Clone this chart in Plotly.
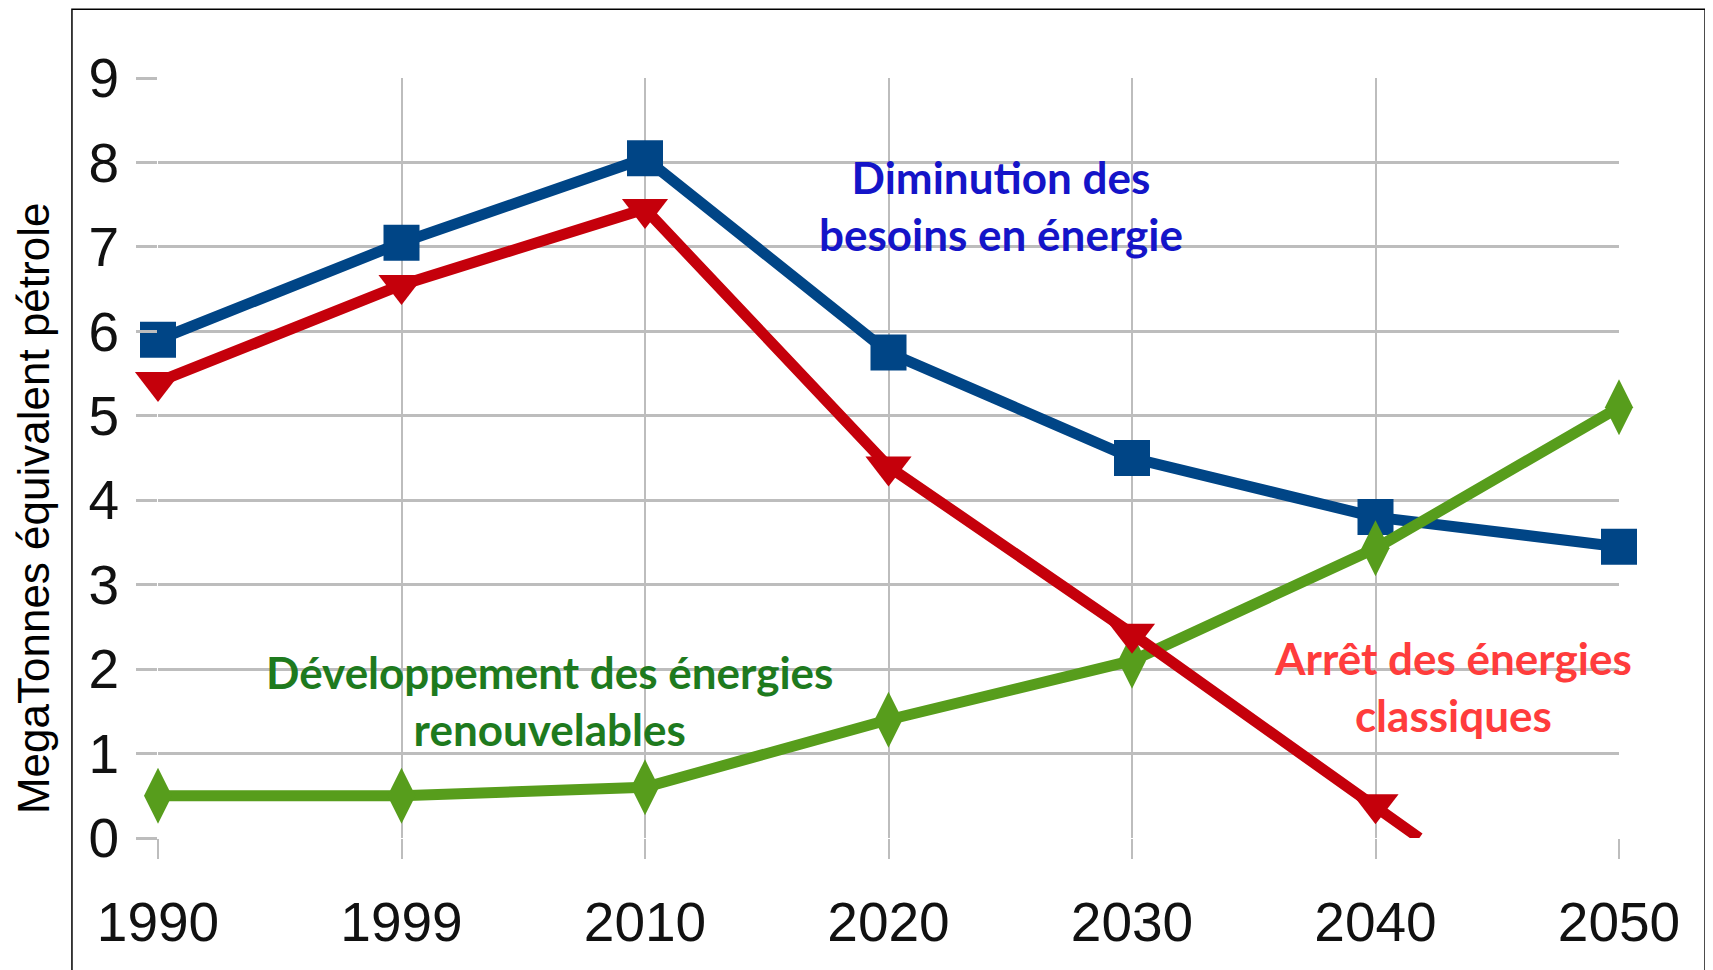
import plotly.graph_objects as go

annees = ["1990", "1999", "2010", "2020", "2030", "2040", "2050"]
positions = [0, 1, 2, 3, 4, 5, 6]

besoins = [5.9, 7.05, 8.05, 5.75, 4.5, 3.8, 3.45]
renouvelables = [0.5, 0.5, 0.6, 1.4, 2.1, 3.43, 5.1]
classiques = [5.4, 6.55, 7.45, 4.4, 2.42, 0.4, 0.0]
classiques_x = [0, 1, 2, 3, 4, 5, 5.18]

bleu = "#004586"
rouge = "#c5000b"
vert = "#579d1c"
grille = "#bdbdbd"

fig = go.Figure()

fig.add_trace(go.Scatter(
    x=positions, y=besoins, mode="lines+markers", cliponaxis=False,
    line=dict(color=bleu, width=11),
    marker=dict(symbol="square", size=36, color=bleu)))

fig.add_trace(go.Scatter(
    x=positions, y=renouvelables, mode="lines+markers", cliponaxis=False,
    line=dict(color=vert, width=11),
    marker=dict(symbol="diamond-tall", size=40, color=vert)))

# red line ends on the x axis without a marker
fig.add_trace(go.Scatter(
    x=classiques_x, y=classiques, mode="lines", cliponaxis=False,
    line=dict(color=rouge, width=11)))
fig.add_trace(go.Scatter(
    x=classiques_x[:-1], y=classiques[:-1], mode="markers", cliponaxis=False,
    marker=dict(symbol="triangle-down", size=40, color=rouge, opacity=1,
                line=dict(width=0))))

etiquettes = [
    ("Diminution des<br>besoins en énergie", 3.46, 7.49, "#1414c8"),
    ("Développement des énergies<br>renouvelables", 1.607, 1.63, "#1e7a1e"),
    ("Arrêt des énergies<br>classiques", 5.32, 1.80, "#ff3c3c"),
]
for texte, x, y, couleur in etiquettes:
    fig.add_annotation(
        x=x, y=y, text="<b>" + texte + "</b>", showarrow=False,
        xanchor="center", yanchor="middle",
        font=dict(family="Lato", size=44, color=couleur))

fig.add_annotation(
    xref="paper", yref="paper", x=-0.0856, y=0.434,
    text="MegaTonnes équivalent pétrole", textangle=-90, showarrow=False,
    xanchor="center", yanchor="middle",
    font=dict(family="Liberation Sans", size=44, color="black"))

fig.add_shape(
    type="rect", xref="paper", yref="paper",
    x0=-0.0589, x1=1.0589, y0=-0.25, y1=1.0905,
    line=dict(color="black", width=1.5), fillcolor="rgba(0,0,0,0)")

fig.update_layout(
    width=1713, height=970,
    margin=dict(l=150, r=102, t=70, b=140),
    plot_bgcolor="white", paper_bgcolor="white",
    showlegend=False,
    font=dict(family="Liberation Sans", size=55, color="#111111"))

fig.update_xaxes(
    range=[0, 6], tickmode="array", tickvals=positions, ticktext=annees,
    showgrid=True, gridcolor=grille, gridwidth=2,
    ticks="outside", ticklen=20, tickwidth=2, tickcolor=grille,
    ticklabelstandoff=16, zeroline=False, showline=False)

fig.update_yaxes(
    range=[0, 9], dtick=1, showgrid=True, gridcolor=grille, gridwidth=3,
    ticks="outside", ticklen=21, tickwidth=3, tickcolor=grille,
    ticklabelstandoff=6, zeroline=False, showline=False)

fig.write_html("out.html")
